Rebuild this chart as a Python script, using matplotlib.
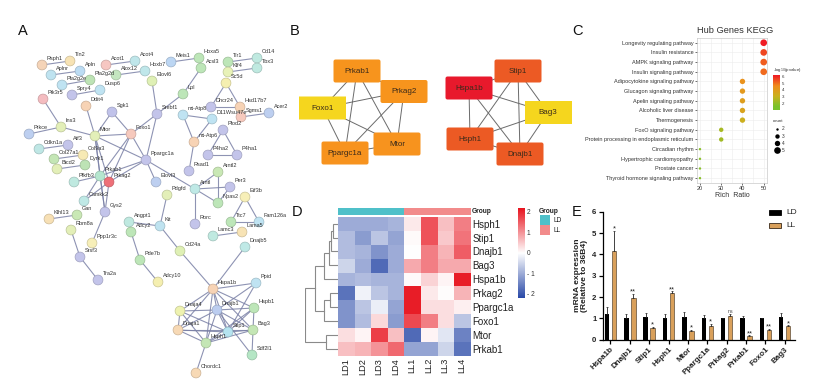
import matplotlib
matplotlib.use("Agg")
import matplotlib.pyplot as plt
import numpy as np
from matplotlib.colors import LinearSegmentedColormap
from matplotlib.patches import FancyBboxPatch, Rectangle

plt.rcParams['font.family'] = ['Liberation Sans', 'DejaVu Sans']

W, H = 818, 392

# ---------- Panel A: network ----------
a_names = ["Rsph1","Tln2","Acot1","Acot4","Aplnr","Apln","Alox12","Hoxb7","Pla2g2e","Pla2g2d","Spry4","Dusp6",
 "Pik3r5","Ddit4","Sgk1","Ins3","Mtor","Foxo1","Prkce","Cdkn1a","Atf3","Col27a1","Col9a3","Bicd2","Dyrk1",
 "Ppargc1a","Prkag2","Prkab1","Pfkfb3","Camkk2","Gys2","Gan","Klhl13","Rbm8a","Ppp1r3c","Srsf3","Tra2a",
 "Angpt1","Adcy2","Pde7b","Elovl6","Meis1","Hoxa5","Acsl3","Lpl","Srebf1","Tlr1","Cd14","Klf4","Tbx3","Sc5d",
 "Dhcr24","Hsd17b7","Sgms1","Acer2","mt-Atp8","D11Wsu47e","mt-Atp6","Plod2","P4ha2","P4ha1","Elovl3","Rsad1",
 "Arntl2","Arntl","Per3","Pdgfd","Eif3b","Npas2","Rorc","Kit","Ttc7","Fam126a","Lamc3","Lama5","Cd24a","Dnajb5",
 "Hspa1b","Ppid","Dnajb1","Dnaja4","Hspb1","Bag3","Stip1","Dnaja1","Hsph1","Sdf2l1","Chordc1","Adcy10"]
a_x = [42,70,106,135,51,80,116,145,62,90,72,100,43,86,112,61,95,131,29,39,68,54,83,57,85,146,109,100,74,84,105,77,49,71,
 92,80,98,129,131,140,152,171,199,201,183,157,228,257,228,257,226,211,240,241,269,183,212,194,223,208,237,156,189,218,
 195,230,167,245,218,195,160,231,259,213,242,180,245,213,256,217,180,254,253,228,178,206,252,196,158]
a_y = [65,61,65,61,75,71,75,71,85,80,95,90,99,106,112,127,136,134,134,149,145,159,155,169,165,160,182,176,182,201,212,215,
 219,230,243,257,280,222,232,260,81,62,58,68,94,114,62,58,72,68,83,107,107,117,113,115,119,142,130,155,155,182,171,172,
 189,187,195,197,203,224,226,222,222,236,232,251,247,289,283,310,311,308,330,332,330,343,355,373,282]
a_colors = ["#f5d4b8","#f7e3b5","#f6c7c2","#bfe6ea","#bfe3f0","#bcdcf3","#c4e6c0","#bfe7ea","#bfe3f2","#bde3b5","#c3c4ea",
 "#bfe3f2","#f4bcc0","#f7d3b5","#c0c2ea","#e3efb8","#e3efb8","#f6c9bd","#bdcff0","#bfe7e5","#c3c4ea","#c4e6b5","#f7eab5",
 "#e3efb8","#bde3b5","#c3c4ea","#ee7078","#b5e6cf","#bfe9e0","#bfe9e6","#c3c4ea","#c9e8b5","#f7e0b5","#e3efb8","#f7efb8",
 "#c3c4ea","#c3c4ea","#bfe9e0","#bde6b8","#bde6b8","#dff0b5","#bcd6f3","#bde6b8","#bde6b8","#bde6b8","#c3c4ea","#bde6b8",
 "#bfe9e0","#e8f2b8","#bfe9e0","#f5efb0","#c3c4ea","#f7d3b5","#f6c9bd","#bdcff0","#bfe3f2","#bfe3f2","#f7d3b5","#c3c4ea",
 "#c3c4ea","#c3c4ea","#bdcff0","#c3c4ea","#c9e8b5","#bfe9e6","#c3c4ea","#e3efb8","#f7efb8","#bde6b8","#c3c4ea","#bfe3f0",
 "#bde6b8","#bfe3f2","#bfe9e0","#f7e3b5","#dff0b5","#bfe9e6","#f7d3b5","#bfe3f2","#bccdf0","#eef2b0","#bde6b8","#c4e6b5",
 "#b5e3f0","#f7d9b5","#c4e6b5","#b5e6c5","#f7d9b5","#f5efb0"]
a_edges = """Rsph1-Tln2 Acot1-Acot4 Aplnr-Apln Alox12-Hoxb7 Pla2g2e-Pla2g2d Spry4-Dusp6 Pik3r5-Ins3 Ddit4-Mtor Prkce-Ins3
Ins3-Mtor Cdkn1a-Atf3 Col27a1-Col9a3 Bicd2-Dyrk1 Klhl13-Gan Rbm8a-Srsf3 Srsf3-Tra2a Ppp1r3c-Gys2 Pfkfb3-Prkab1 Sgk1-Foxo1
Sgk1-Mtor Foxo1-Mtor Foxo1-Ppargc1a Mtor-Ppargc1a Foxo1-Prkag2 Foxo1-Prkab1 Mtor-Prkag2 Mtor-Prkab1 Ppargc1a-Prkag2
Ppargc1a-Prkab1 Prkab1-Prkag2 Prkab1-Gys2 Prkag2-Gys2 Prkab1-Camkk2 Prkag2-Camkk2 Mtor-Gys2 Srebf1-Foxo1 Srebf1-Ppargc1a
Srebf1-Lpl Srebf1-Elovl6 Lpl-Acsl3 Meis1-Hoxa5 Tlr1-Cd14 Klf4-Tbx3 Sc5d-Dhcr24 Sc5d-Hsd17b7 Dhcr24-Hsd17b7 Sgms1-Acer2
mt-Atp8-D11Wsu47e mt-Atp8-mt-Atp6 D11Wsu47e-mt-Atp6 mt-Atp6-Rsad1 Plod2-P4ha2 Plod2-P4ha1 P4ha2-P4ha1 Ppargc1a-Elovl3
Ppargc1a-Arntl Arntl-Arntl2 Arntl-Per3 Arntl-Npas2 Arntl2-Npas2 Per3-Npas2 Arntl-Rorc Eif3b-Ttc7 Eif3b-Fam126a Ttc7-Fam126a
Lamc3-Lama5 Pdgfd-Kit Angpt1-Kit Kit-Cd24a Adcy2-Pde7b Pde7b-Adcy10 Cd24a-Hspa1b Dnajb5-Hspa1b Hspa1b-Ppid Hspa1b-Dnajb1
Hspa1b-Dnaja4 Hspa1b-Hspb1 Hspa1b-Bag3 Hspa1b-Stip1 Hspa1b-Dnaja1 Hspa1b-Hsph1 Ppid-Stip1 Ppid-Dnajb1 Dnajb1-Dnaja4
Dnajb1-Hspb1 Dnajb1-Bag3 Dnajb1-Stip1 Dnajb1-Dnaja1 Dnajb1-Hsph1 Dnajb1-Sdf2l1 Dnaja4-Stip1 Dnaja4-Hsph1 Dnaja4-Dnaja1
Hspb1-Bag3 Hspb1-Stip1 Hspb1-Hsph1 Bag3-Stip1 Bag3-Hsph1 Bag3-Dnaja1 Bag3-Sdf2l1 Stip1-Dnaja1 Stip1-Hsph1 Dnaja1-Hsph1
Hsph1-Chordc1""".split()

# ---------- Panel B: hub-gene boxes ----------
b_names = ["Prkab1","Prkag2","Foxo1","Mtor","Ppargc1a","Stip1","Hspa1b","Bag3","Hsph1","Dnajb1"]
b_cx = [357,404,322.7,397,345,518,469,548,470,520]
b_cy = [71,91.5,108,144,153,71,88,112.5,139,154]
b_colors = ["#f7941d","#f7941d","#f5d61e","#f7931e","#f7931e","#ec5a24","#e8192c","#f5d61e","#ec5a24","#ec5a24"]
b_clip = {"Foxo1":(299,346), "Bag3":(525,572)}

# ---------- Panel C: KEGG ----------
pathways = ["Longevity regulating pathway","Insulin resistance","AMPK signaling pathway","Insulin signaling pathway",
 "Adipocytokine signaling pathway","Glucagon signaling pathway","Apelin signaling pathway","Alcoholic liver disease",
 "Thermogenesis","FoxO signaling pathway","Protein processing in endoplasmic reticulum","Circadian rhythm",
 "Hypertrophic cardiomyopathy","Prostate cancer","Thyroid hormone signaling pathway"]
rich_ratio = [50,50,50,50,40,40,40,40,40,30,30,20,20,20,20]
log_p = [6.2,5.6,5.3,5.1,4.4,4.1,3.9,3.7,3.2,2.4,2.3,1.8,1.8,1.8,1.8]
gene_count = [5,5,5,5,4,4,4,4,4,3,3,2,2,2,2]
count_levels = [2,3,4,5]
count_sizes = {2:3, 3:10, 4:15, 5:23}

# ---------- Panel D: heatmap ----------
heat_genes = ["Hsph1","Stip1","Dnajb1","Bag3","Hspa1b","Prkag2","Ppargc1a","Foxo1","Mtor","Prkab1"]
heat_samples = ["LD1","LD2","LD3","LD4","LL1","LL2","LL3","LL4"]
heat_vals = np.array([
 [-1.0,-1.0,-1.0,-0.9, 0.2, 1.6, 0.6, 1.2],
 [-0.8,-1.2,-0.7,-1.1, 0.05,1.6, 0.5, 1.3],
 [-0.8,-0.9,-1.3,-1.0, 0.0, 1.2, 0.7, 1.5],
 [-0.5,-1.0,-1.8,-1.0, 0.8, 1.2, 0.8, 0.8],
 [-0.9,-0.8,-0.9,-0.9, 0.05,0.4, 0.1, 2.1],
 [-1.7,-0.15,-0.7,-0.9,2.1, 0.2, 0.03,0.7],
 [-1.3,-0.7,-0.2,-1.1, 2.1, 0.3, 0.3, 0.15],
 [-1.3,-0.8, 0.35,-1.2,1.7, 1.2, 0.3,-0.7],
 [ 0.3, 0.1, 1.8, 0.6,-1.8, 0.1,-0.3,-1.5],
 [ 0.6, 0.7, 1.0, 1.4,-1.1,-1.1,-0.5,-1.7]])
heat_tree = (33.3, (23.5, (14, (9, (7, (5, 0, 1), 2), 3), 4), (14, (8, 5, 6), 7)), (12, 8, 9))

# ---------- Panel E: bars ----------
e_genes = ["Hspa1b","Dnajb1","Stip1","Hsph1","Mtor","Ppargc1a","Prkag2","Prkab1","Foxo1","Bag3"]
ld_mean = [1.22,1.02,1.07,1.04,1.07,1.02,1.0,1.0,1.0,1.05]
ld_err = [0.3,0.17,0.2,0.18,0.22,0.12,0.03,0.12,0.02,0.18]
ll_mean = [4.15,1.97,0.55,2.18,0.42,0.63,1.1,0.17,0.47,0.62]
ll_err = [0.95,0.17,0.05,0.08,0.03,0.1,0.1,0.03,0.05,0.06]
e_sig = ["*","**","*","**","*","*","ns","**","**","*"]

fig = plt.figure(figsize=(W/100, H/100), dpi=100, facecolor="white")

def ax_px(l, t, r, b, **kw):
    return fig.add_axes([l/W, 1-b/H, (r-l)/W, (b-t)/H], **kw)

bg = ax_px(0, 0, W, H)
bg.set_xlim(0, W); bg.set_ylim(H, 0); bg.axis("off")

# panel letters
for s, x, y in [("A",18,31),("B",290,31),("C",572,31),("D",292,212),("E",572,212)]:
    bg.text(x, y, s, fontsize=10.5, va="center", ha="left", color="#111111")

# A
pos = {n:(x,y) for n,x,y in zip(a_names,a_x,a_y)}
for e in a_edges:
    for sep in range(len(e)):
        if e[sep]=="-" and e[:sep] in pos and e[sep+1:] in pos:
            p,q = pos[e[:sep]],pos[e[sep+1:]]
            bg.plot([p[0],q[0]],[p[1],q[1]],color="#7a80a6",lw=0.8,alpha=0.85,zorder=1)
            break
edge_cols = [tuple(0.82*c for c in matplotlib.colors.to_rgb(col)) for col in a_colors]
bg.scatter(a_x,a_y,s=50,c=a_colors,edgecolors=edge_cols,linewidths=0.5,zorder=2)
for n,x,y in zip(a_names,a_x,a_y):
    bg.text(x+4.5,y-6.5,n,fontsize=4,color="#333333",va="center",ha="left",zorder=3)

# B
for grp in (b_names[:5], b_names[5:]):
    idx = [b_names.index(g) for g in grp]
    for i in range(5):
        for j in range(i+1,5):
            bg.plot([b_cx[idx[i]],b_cx[idx[j]]],[b_cy[idx[i]],b_cy[idx[j]]],color="#6b6b6b",lw=0.7,zorder=1)
for n,x,y,c in zip(b_names,b_cx,b_cy,b_colors):
    if n in b_clip:
        x0,x1 = b_clip[n]
        p = FancyBboxPatch((x0-4,y-10.5),x1-x0+6,21,boxstyle="round,pad=1,rounding_size=2",fc=c,ec="none",zorder=2)
        bg.add_patch(p)
        p.set_clip_path(Rectangle((x0,y-12),x1-x0,24,transform=bg.transData))
    else:
        bg.add_patch(FancyBboxPatch((x-22.5,y-10.5),45,21,boxstyle="round,pad=1,rounding_size=2",fc=c,ec="none",zorder=2))
    bg.text(x,y,n,fontsize=5.8,color="#3a2a1a",ha="center",va="center",zorder=3)

# C
kegg_cmap = LinearSegmentedColormap.from_list("kegg",["#79c32c","#c9b21e","#f08c1c","#ef1c24"])
axc = ax_px(697,38,767,183)
rows = np.arange(len(pathways))
axc.scatter(rich_ratio,rows,s=[count_sizes[c] for c in gene_count],c=log_p,cmap=kegg_cmap,vmin=1.5,vmax=6.2,zorder=3,linewidths=0)
axc.set_xlim(18.6,51.55); axc.set_ylim(14.5,-0.49)
axc.set_yticks(rows); axc.set_yticklabels(pathways,fontsize=4,color="#333333")
axc.set_xticks([20,30,40,50]); axc.tick_params(axis="x",labelsize=4,length=1.5,width=0.4,pad=1,labelcolor="#333333")
axc.tick_params(axis="y",length=1.5,width=0.4,pad=1)
axc.set_xticks([25,35,45],minor=True); axc.tick_params(axis="x",which="minor",length=0)
axc.grid(True,which="both",color="#ececec",lw=0.4); axc.set_axisbelow(True)
for sp in axc.spines.values(): sp.set_linewidth(0.4); sp.set_color("#bbbbbb")
axc.set_xlabel("Rich  Ratio",fontsize=5,labelpad=0.5,color="#333333")
bg.text(697,30,"Hub Genes KEGG",fontsize=6.7,color="#333333",va="center",ha="left")
cb1 = ax_px(773,75,780,110)
cb1.imshow(np.linspace(6.25,1,100)[:,None],aspect="auto",cmap=kegg_cmap,vmin=1.5,vmax=6.2,extent=[0,1,1,6.25])
cb1.set_xticks([]); cb1.yaxis.tick_right(); cb1.set_yticks([2,3,4,5,6])
cb1.tick_params(axis="y",length=0,labelsize=3.2,pad=1.5,labelcolor="#333333")
for sp in cb1.spines.values(): sp.set_visible(False)
bg.text(773,69.5,"-log$_{10}$(pvalue)",fontsize=3.2,color="#333333",va="center",ha="left")
bg.text(773,121,"count",fontsize=3.2,color="#333333",va="center",ha="left")
for k,c in enumerate(count_levels):
    y = 129+7*k
    bg.scatter([776.7],[y],s=count_sizes[c],c="black",linewidths=0)
    bg.text(782,y,str(c),fontsize=3.4,color="#333333",va="center",ha="left")

# D
heat_cmap = LinearSegmentedColormap.from_list("heat",["#2a4aa8","#ffffff","#e8141f"])
axd = ax_px(337.7,216.7,470,355.7)
axd.imshow(heat_vals,aspect="auto",cmap=heat_cmap,vmin=-2.2,vmax=2.2,interpolation="nearest")
axd.set_yticks(range(len(heat_genes))); axd.set_yticklabels(heat_genes,fontsize=7,color="#222222")
axd.yaxis.tick_right()
axd.set_xticks(range(len(heat_samples))); axd.set_xticklabels(heat_samples,fontsize=6.6,rotation=90,color="#222222")
axd.tick_params(length=0,pad=1.5)
for sp in axd.spines.values(): sp.set_visible(False)
axg = ax_px(337.7,207.7,470,215)
axg.imshow(np.array([[0,0,0,0,1,1,1,1]]),aspect="auto",cmap=matplotlib.colors.ListedColormap(["#4fc0c9","#f28b8b"]))
axg.axis("off")
bg.text(472,211.4,"Group",fontsize=4.8,fontweight="bold",color="#222222",va="center",ha="left")
axt = ax_px(305,216.7,338,355.7)
axt.set_xlim(33.5,0); axt.set_ylim(9.5,-0.5); axt.axis("off")
def draw_tree(node):
    if not isinstance(node,tuple):
        return node,0
    h,a,b = node
    ya,ha = draw_tree(a); yb,hb = draw_tree(b)
    axt.plot([ha,h,h,hb],[ya,ya,yb,yb],color="#8a8a8a",lw=0.8,solid_joinstyle="miter")
    return (ya+yb)/2,h
draw_tree(heat_tree)
cb2 = ax_px(517.7,207.7,524,297.7)
cb2.imshow(np.linspace(2.2,-2.2,200)[:,None],aspect="auto",cmap=heat_cmap,vmin=-2.2,vmax=2.2,extent=[0,1,-2.2,2.2])
cb2.set_xticks([]); cb2.yaxis.tick_right(); cb2.set_yticks([2,1,0,-1,-2]); cb2.set_yticklabels(["2","1","0","- 1","- 2"])
cb2.tick_params(axis="y",length=0,labelsize=4.8,pad=2,labelcolor="#333333")
for sp in cb2.spines.values(): sp.set_visible(False)
bg.text(539,211,"Group",fontsize=4.8,fontweight="bold",color="#222222",va="center",ha="left")
for lab,col,t in [("LD","#4fc0c9",215),("LL","#f28b8b",225)]:
    bg.add_patch(Rectangle((540,t),10,10,fc=col,ec="none"))
    bg.text(553,t+5,lab,fontsize=4.8,color="#222222",va="center",ha="left")

# E
axe = ax_px(602.7,211.7,795,339.7)
axe.patch.set_visible(False)
xs = np.arange(len(e_genes))
axe.bar(xs-0.18,ld_mean,0.23,color="black",yerr=[np.zeros(10),ld_err],ecolor="#222222",error_kw=dict(lw=0.6,capsize=0.8,capthick=0.5))
axe.bar(xs+0.18,ll_mean,0.23,color="#d9a05b",edgecolor="#3a2a1a",linewidth=0.4,yerr=[np.zeros(10),ll_err],ecolor="#222222",error_kw=dict(lw=0.6,capsize=0.8,capthick=0.5))
axe.set_xlim(-0.4,9.53); axe.set_ylim(0,6)
axe.set_xticks(xs); axe.set_xticklabels(e_genes,rotation=45,ha="right",rotation_mode="anchor",fontsize=5.8,fontweight="bold",color="#222222")
axe.set_yticks(range(7)); axe.set_yticklabels([str(v) for v in range(7)],fontsize=5.6,fontweight="bold",color="#222222")
axe.tick_params(length=3,width=0.9,pad=1.5)
axe.spines[["top","right"]].set_visible(False)
axe.spines[["left","bottom"]].set_linewidth(0.9)
axe.set_ylabel("mRNA expression\n(Relative to 36B4)",fontsize=6.1,fontweight="bold",labelpad=3,linespacing=1.05,color="#222222")
for x,m,e,s in zip(xs,ll_mean,ll_err,e_sig):
    if s == "ns":
        axe.text(x+0.18,m+e+0.02,s,fontsize=3.8,ha="center",va="bottom",color="#444444")
    else:
        axe.text(x+0.18,m+e-0.08,s,fontsize=5.4,ha="center",va="bottom",color="#222222")
for lab,col,ec,y in [("LD","black","black",212),("LL","#d9a05b","#3a2a1a",225.7)]:
    bg.add_patch(Rectangle((769,y-2.5),12,5,fc=col,ec=ec,lw=0.6))
    bg.text(786,y,lab,fontsize=6,color="#222222",va="center",ha="left")

fig.savefig("out.png",dpi=100)
